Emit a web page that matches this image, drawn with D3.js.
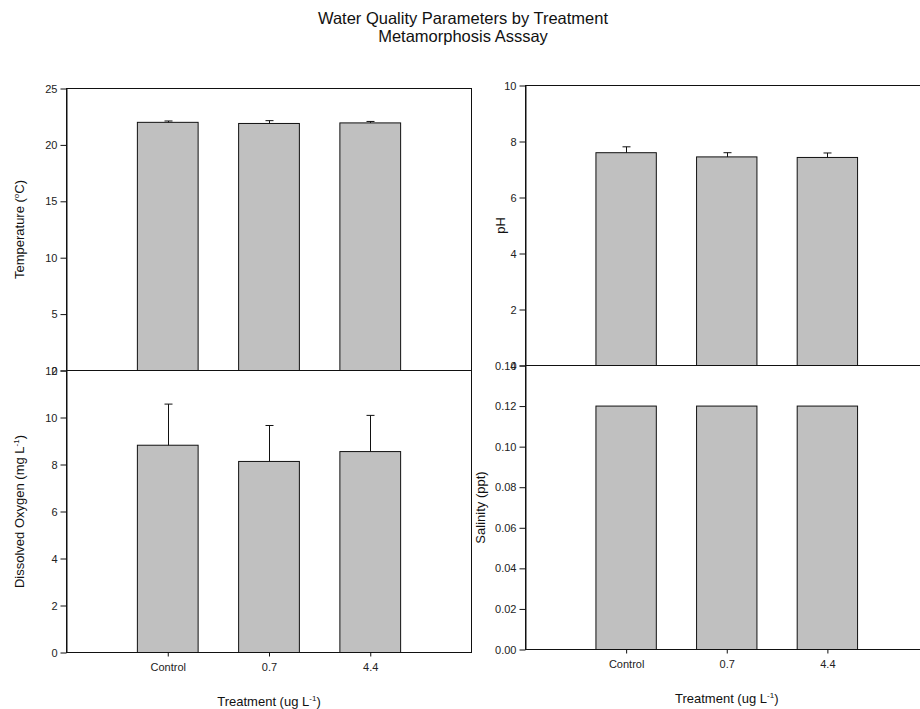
<!DOCTYPE html>
<html>
<head>
<meta charset="utf-8">
<script src="https://cdn.jsdelivr.net/npm/d3@7"></script>
<style>
  body { margin: 0; background: #fff; }
  svg { display: block; font-family: "Liberation Sans", Arial, sans-serif; }
</style>
</head>
<body>
<svg id="chart" width="920" height="709"></svg>
<script>
// ---- data ----
const categories = ["Control", "0.7", "4.4"];
const temperature = [22.0, 21.9, 21.95];
const temperatureErr = [0.12, 0.25, 0.13];
const pH = [7.6, 7.45, 7.43];
const pHErr = [0.21, 0.15, 0.16];
const dissolvedOxygen = [8.82, 8.13, 8.55];
const dissolvedOxygenErr = [1.75, 1.53, 1.54];
const salinity = [0.12, 0.12, 0.12];
const salinityErr = [0, 0, 0];
const temperatureTicks = [0, 5, 10, 15, 20, 25];
const pHTicks = [0, 2, 4, 6, 8, 10];
const dissolvedOxygenTicks = [0, 2, 4, 6, 8, 10, 12];
const salinityTicks = [0, 0.02, 0.04, 0.06, 0.08, 0.10, 0.12, 0.14];
const titleLines = ["Water Quality Parameters by Treatment", "Metamorphosis Asssay"];
const xTitle = "Treatment (ug L";

const svg = d3.select("#chart");

// title
svg.append("text").attr("x", 463).attr("y", 24).attr("text-anchor", "middle")
  .attr("font-size", 16.5).attr("fill", "#111").text(titleLines[0]);
svg.append("text").attr("x", 463).attr("y", 42).attr("text-anchor", "middle")
  .attr("font-size", 16.5).attr("fill", "#111").text(titleLines[1]);

function panel(opt) {
  const x = d3.scalePoint().domain(categories).range([opt.x0, opt.x1]).padding(1);
  const y = d3.scaleLinear().domain(opt.domain).range([opt.yB, opt.yT]);
  const bw = x.step() * 0.6;
  const g = svg.append("g");

  // bars
  g.selectAll("rect.bar").data(opt.values).join("rect").attr("class", "bar")
    .attr("x", (d, i) => x(categories[i]) - bw / 2)
    .attr("y", d => y(d))
    .attr("width", bw)
    .attr("height", d => y(opt.domain[0]) - y(d))
    .attr("fill", "#c0c0c0").attr("stroke", "#111").attr("stroke-width", 1);

  // error bars (upper only)
  opt.values.forEach((v, i) => {
    const e = opt.errs[i];
    if (!e) return;
    const cx = Math.round(x(categories[i])) + 0.5;
    g.append("line").attr("x1", cx).attr("x2", cx).attr("y1", y(v)).attr("y2", y(v + e))
      .attr("stroke", "#111").attr("stroke-width", 1);
    g.append("line").attr("x1", cx - 4).attr("x2", cx + 4).attr("y1", y(v + e)).attr("y2", y(v + e))
      .attr("stroke", "#111").attr("stroke-width", 1);
  });

  // frame
  g.append("rect").attr("x", opt.x0).attr("y", opt.yT)
    .attr("width", opt.x1 - opt.x0).attr("height", opt.yB - opt.yT)
    .attr("fill", "none").attr("stroke", "#111").attr("stroke-width", 1);

  // y axis
  const ya = g.append("g").attr("transform", `translate(${opt.x0},0)`)
    .call(d3.axisLeft(y).tickValues(opt.ticks).tickFormat(opt.fmt).tickSize(6).tickSizeOuter(0).tickPadding(3));
  ya.select(".domain").attr("stroke", "#111");
  ya.selectAll(".tick line").attr("stroke", "#111");
  ya.selectAll(".tick text").attr("font-size", 11).attr("fill", "#222")
    .attr("font-family", "Liberation Sans, Arial, sans-serif");

  // x axis
  if (opt.showX) {
    const xa = g.append("g").attr("transform", `translate(0,${opt.yB})`)
      .call(d3.axisBottom(x).tickSize(4).tickSizeOuter(0).tickPadding(7));
    xa.select(".domain").remove();
    xa.selectAll(".tick line").attr("stroke", "#111");
    xa.selectAll(".tick text").attr("font-size", 11).attr("fill", "#222")
      .attr("font-family", "Liberation Sans, Arial, sans-serif");
    const t = g.append("text").attr("x", x(categories[1]))
      .attr("y", opt.yB + 53).attr("text-anchor", "middle").attr("font-size", 13).attr("fill", "#111");
    t.append("tspan").text(xTitle);
    t.append("tspan").attr("font-size", 8).attr("dy", -5).text("-1");
    t.append("tspan").attr("dy", 5).text(")");
  }

  // y title
  const yt = g.append("text")
    .attr("transform", `translate(${opt.ylx},${(opt.yT + opt.yB) / 2}) rotate(-90)`)
    .attr("text-anchor", "middle").attr("font-size", 13).attr("fill", "#111");
  opt.ylabel(yt);
}

panel({
  x0: 66.5, x1: 471.5, yT: 88.5, yB: 370.5, domain: [0, 25], ticks: temperatureTicks,
  fmt: d3.format("d"), values: temperature, errs: temperatureErr, showX: false, ylx: 24,
  ylabel: t => {
    t.append("tspan").text("Temperature (");
    t.append("tspan").attr("font-size", 8).attr("dy", -5).text("o");
    t.append("tspan").attr("dy", 5).text("C)");
  }
});
panel({
  x0: 66.5, x1: 471.5, yT: 370.5, yB: 652.5, domain: [0, 12], ticks: dissolvedOxygenTicks,
  fmt: d3.format("d"), values: dissolvedOxygen, errs: dissolvedOxygenErr, showX: true, ylx: 24,
  ylabel: t => {
    t.append("tspan").text("Dissolved Oxygen (mg L");
    t.append("tspan").attr("font-size", 8).attr("dy", -5).text("-1");
    t.append("tspan").attr("dy", 5).text(")");
  }
});
panel({
  x0: 525.5, x1: 928, yT: 85.5, yB: 365.5, domain: [0, 10], ticks: pHTicks,
  fmt: d3.format("d"), values: pH, errs: pHErr, showX: false, ylx: 505,
  ylabel: t => t.text("pH")
});
panel({
  x0: 525.5, x1: 928, yT: 365.5, yB: 649.5, domain: [0, 0.14], ticks: salinityTicks,
  fmt: d3.format(".2f"), values: salinity, errs: salinityErr, showX: true, ylx: 485,
  ylabel: t => t.text("Salinity (ppt)")
});
</script>
</body>
</html>
